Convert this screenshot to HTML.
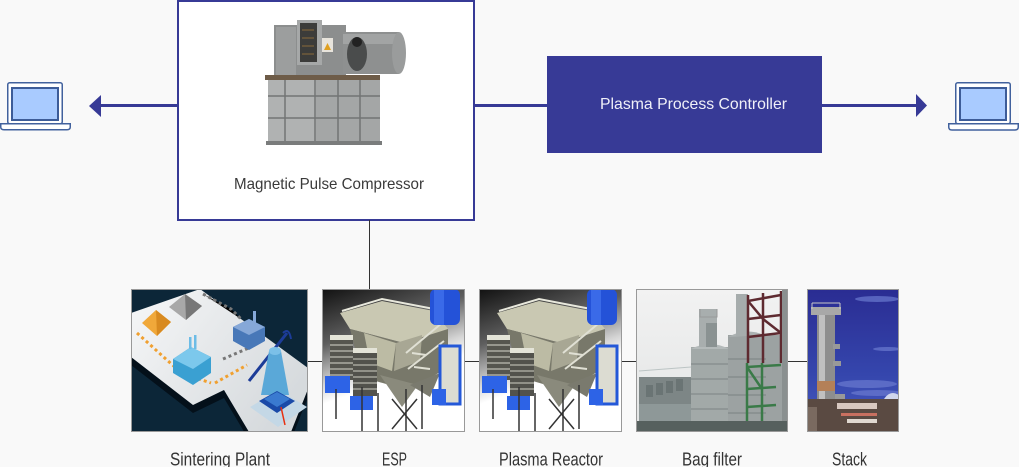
<!DOCTYPE html>
<html><head><meta charset="utf-8"><style>
html,body{margin:0;padding:0;background:#f9f9f9;}
svg{display:block;}
</style></head><body>
<svg width="1019" height="467" viewBox="0 0 1019 467">
<defs>
 <linearGradient id="espbg" x1="0" y1="0" x2="0.35" y2="1">
  <stop offset="0" stop-color="#111"/>
  <stop offset="0.35" stop-color="#5e5e5e"/>
  <stop offset="0.6" stop-color="#d5d5d5"/>
  <stop offset="0.72" stop-color="#fff"/>
  <stop offset="1" stop-color="#fff"/>
 </linearGradient>
 <linearGradient id="plat" x1="0" y1="0" x2="1" y2="0.6">
  <stop offset="0" stop-color="#f6f7f8"/>
  <stop offset="1" stop-color="#d6dadd"/>
 </linearGradient>
 <linearGradient id="sky" x1="0" y1="0" x2="0" y2="1">
  <stop offset="0" stop-color="#2a2c92"/>
  <stop offset="0.6" stop-color="#3546ad"/>
  <stop offset="1" stop-color="#4a5cc0"/>
 </linearGradient>
 <linearGradient id="bfsky" x1="0" y1="0" x2="0" y2="1">
  <stop offset="0" stop-color="#f2f2f2"/>
  <stop offset="1" stop-color="#e2e4e4"/>
 </linearGradient>
 <clipPath id="c143"><rect width="143" height="143"/></clipPath>
 <clipPath id="c177"><rect width="177" height="143"/></clipPath>
 <clipPath id="c152"><rect width="152" height="143"/></clipPath>
 <clipPath id="c92"><rect width="92" height="143"/></clipPath>
 <g id="esp">
  <rect width="143" height="143" fill="url(#espbg)"/>
  <!-- roof -->
  <polygon points="18,24 60,12 112,22 126,40 82,54 28,40" fill="#c9c8b2"/>
  <polyline points="20,22 60,10 112,20" fill="none" stroke="#e8e8dc" stroke-width="2"/>
  <!-- main body -->
  <polygon points="28,40 82,54 126,40 126,78 88,102 40,88" fill="#78786a"/>
  <polygon points="42,44 74,54 70,82 48,74" fill="#bcbba4"/>
  <polygon points="74,54 100,46 98,72 72,82" fill="#a8a794"/>
  <!-- hoppers -->
  <polygon points="58,86 96,96 80,118" fill="#8a8a7c"/>
  <polygon points="88,96 118,84 108,108" fill="#7a7a6e"/>
  <!-- left stacked boxes -->
  <rect x="8" y="49" width="23" height="42" fill="#56564f"/>
  <rect x="8" y="46" width="23" height="5" fill="#e4e4d8"/>
  <g stroke="#d8d8cc" stroke-width="1">
   <line x1="8" y1="56" x2="31" y2="56"/><line x1="8" y1="62" x2="31" y2="62"/><line x1="8" y1="68" x2="31" y2="68"/><line x1="8" y1="74" x2="31" y2="74"/><line x1="8" y1="80" x2="31" y2="80"/><line x1="8" y1="86" x2="31" y2="86"/>
  </g>
  <rect x="31" y="62" width="24" height="45" fill="#52524c"/>
  <rect x="31" y="59" width="24" height="5" fill="#e4e4d8"/>
  <g stroke="#d0d0c4" stroke-width="1">
   <line x1="31" y1="70" x2="55" y2="70"/><line x1="31" y1="76" x2="55" y2="76"/><line x1="31" y1="82" x2="55" y2="82"/><line x1="31" y1="88" x2="55" y2="88"/><line x1="31" y1="94" x2="55" y2="94"/><line x1="31" y1="100" x2="55" y2="100"/>
  </g>
  <!-- stairs -->
  <g stroke="#e0e0d4" stroke-width="2">
   <line x1="84" y1="64" x2="120" y2="34"/><line x1="86" y1="80" x2="122" y2="52"/>
   <line x1="90" y1="64" x2="104" y2="66"/><line x1="92" y1="78" x2="108" y2="80"/>
  </g>
  <!-- blue duct -->
  <rect x="108" y="0" width="30" height="36" rx="6" fill="#2452d8"/>
  <rect x="112" y="0" width="10" height="36" fill="#3a6ae8"/>
  <!-- right column -->
  <rect x="118" y="57" width="20" height="58" fill="#dcdcd2" stroke="#2458d8" stroke-width="3"/>
  <!-- blue boxes -->
  <rect x="3" y="87" width="25" height="17" fill="#2d63e6"/>
  <rect x="28" y="107" width="23" height="14" fill="#2d63e6"/>
  <rect x="110" y="100" width="14" height="16" fill="#2d63e6"/>
  <!-- legs -->
  <g stroke="#333" stroke-width="1.5">
   <line x1="40" y1="98" x2="40" y2="143"/><line x1="56" y1="104" x2="56" y2="143"/>
   <line x1="84" y1="100" x2="84" y2="143"/><line x1="100" y1="96" x2="100" y2="140"/>
   <line x1="14" y1="100" x2="14" y2="130"/><line x1="70" y1="110" x2="95" y2="140"/>
   <line x1="95" y1="110" x2="70" y2="140"/>
  </g>
 </g>
</defs>

<rect width="1019" height="467" fill="#f9f9f9"/>

<!-- connectors top -->
<line x1="100" y1="105.5" x2="178" y2="105.5" stroke="#373a96" stroke-width="3"/>
<polygon points="89,106 101,95 101,117" fill="#373a96"/>
<line x1="474" y1="105.5" x2="548" y2="105.5" stroke="#373a96" stroke-width="3"/>
<line x1="821" y1="105.5" x2="917" y2="105.5" stroke="#373a96" stroke-width="3"/>
<polygon points="916,94 927,105.5 916,117" fill="#373a96"/>

<!-- Magnetic Pulse Compressor box -->
<rect x="178" y="1" width="296" height="219" fill="#fff" stroke="#373a96" stroke-width="2"/>
<!-- machine -->
<g>
 <rect x="274" y="25" width="72" height="52" fill="#8c8e8e"/>
 <rect x="276" y="27" width="20" height="48" fill="#9c9e9e"/>
 <rect x="297" y="20" width="25" height="45" fill="#a6a8a8"/>
 <rect x="300" y="23" width="17" height="39" fill="#3c3c3a"/>
 <g stroke="#8a6a3a" stroke-width="1"><line x1="302" y1="30" x2="314" y2="30"/><line x1="302" y1="38" x2="314" y2="38"/><line x1="302" y1="46" x2="314" y2="46"/><line x1="302" y1="54" x2="314" y2="54"/></g>
 <rect x="322" y="38" width="11" height="14" fill="#e8e4dc"/>
 <polygon points="327.5,43 331,50 324,50" fill="#e0a020"/>
 <rect x="343" y="32" width="56" height="42" fill="#8e9090"/>
 <rect x="343" y="34" width="56" height="10" fill="#a2a4a4"/>
 <ellipse cx="399" cy="53" rx="7" ry="21" fill="#9a9c9c"/>
 <ellipse cx="357" cy="54" rx="10" ry="17" fill="#4a4c4c"/>
 <circle cx="357" cy="42" r="5" fill="#222"/>
 <rect x="265" y="75" width="115" height="5" fill="#6e5c48"/>
 <rect x="268" y="80" width="112" height="62" fill="#a4a6a6"/>
 <rect x="268" y="80" width="48" height="62" fill="#b0b2b2"/>
 <g stroke="#727474" stroke-width="1.5">
  <line x1="268" y1="96" x2="380" y2="96"/><line x1="268" y1="118" x2="380" y2="118"/>
  <line x1="285" y1="80" x2="285" y2="142"/><line x1="315" y1="80" x2="315" y2="142"/>
  <line x1="338" y1="80" x2="338" y2="142"/><line x1="360" y1="80" x2="360" y2="142"/>
 </g>
 <rect x="266" y="141" width="116" height="4" fill="#7a7c7c"/>
</g>
<text x="234" y="189" font-family="Liberation Sans, sans-serif" font-size="16" fill="#3a3a3a" textLength="190" lengthAdjust="spacingAndGlyphs">Magnetic Pulse Compressor</text>

<!-- Plasma Process Controller -->
<rect x="547" y="56" width="275" height="97" fill="#373a96"/>
<text x="600" y="109" font-family="Liberation Sans, sans-serif" font-size="16" fill="#f0f0f8" textLength="187" lengthAdjust="spacingAndGlyphs">Plasma Process Controller</text>

<!-- laptops -->
<g>
 <rect x="7.75" y="82.75" width="54.5" height="41" rx="2" fill="#fff" stroke="#41619d" stroke-width="1.5"/>
 <rect x="12" y="88" width="46" height="32" fill="#a9cbff" stroke="#3d5c98" stroke-width="2"/>
 <path d="M0.75,123.75 H70.25 V127 Q70.25,129.75 67,129.75 H4 Q0.75,129.75 0.75,127 Z" fill="#fff" stroke="#41619d" stroke-width="1.5"/>
</g>
<g>
 <rect x="955.75" y="82.75" width="54.5" height="41" rx="2" fill="#fff" stroke="#41619d" stroke-width="1.5"/>
 <rect x="960" y="88" width="46" height="32" fill="#a9cbff" stroke="#3d5c98" stroke-width="2"/>
 <path d="M948.75,123.75 H1018.25 V127 Q1018.25,130 1015,130 H952 Q948.75,130 948.75,127 Z" fill="#fff" stroke="#41619d" stroke-width="1.5"/>
</g>

<!-- vertical connector -->
<line x1="369.5" y1="220" x2="369.5" y2="290" stroke="#333" stroke-width="1"/>
<!-- bottom connectors -->
<g stroke="#333" stroke-width="1">
 <line x1="308" y1="361.5" x2="322" y2="361.5"/>
 <line x1="465" y1="361.5" x2="479" y2="361.5"/>
 <line x1="622" y1="361.5" x2="636" y2="361.5"/>
 <line x1="788" y1="361.5" x2="807" y2="361.5"/>
</g>

<!-- Sintering Plant -->
<g transform="translate(131,289)">
 <g clip-path="url(#c177)">
  <rect width="177" height="143" fill="#0c2638"/>
  <polygon points="0,32 69,8 177,87 177,108 160,151 118,151 93,109 62,124 0,76" fill="#04101a"/>
  <polygon points="0,24 69,0 177,79 177,100 160,143 118,143 93,101 62,116 0,68" fill="url(#plat)"/>
  <polygon points="119,118 148,101 176,118 147,138" fill="#c4d8e6"/>
  <polygon points="11,34 25,21 40,33 26,47" fill="#f0a83a"/>
  <polygon points="25,21 40,33 26,47" fill="#d88a20"/>
  <polygon points="38,18 54,5 71,17 55,31" fill="#a8a8a8"/>
  <polygon points="54,5 71,17 55,31" fill="#777"/>
  <path d="M6,44 L46,80" stroke="#f0a030" stroke-width="3" stroke-dasharray="3,3"/>
  <path d="M50,84 L80,94 M84,94 L116,76" stroke="#f0a030" stroke-width="3" stroke-dasharray="3,3"/>
  <path d="M72,5 L100,20 L110,30 M92,70 L120,58" stroke="#777" stroke-width="3" stroke-dasharray="3,3"/>
  <polygon points="42,70 60,58 80,68 80,84 62,96 42,84" fill="#3aa0d2"/>
  <polygon points="42,70 60,58 80,68 62,80" fill="#7cc8ec"/>
  <rect x="58" y="48" width="2.5" height="12" fill="#6cbce6"/><rect x="63" y="46" width="2.5" height="14" fill="#6cbce6"/>
  <polygon points="102,38 118,30 134,38 134,52 118,61 102,52" fill="#4878b8"/>
  <polygon points="102,38 118,30 134,38 118,46" fill="#86a8d8"/>
  <rect x="122" y="22" width="3" height="12" fill="#86a8d8"/>
  <line x1="118" y1="92" x2="156" y2="44" stroke="#1c3c98" stroke-width="3"/>
  <path d="M152,44 Q158,38 160,50" stroke="#1c3c98" stroke-width="2" fill="none"/>
  <polygon points="138,62 150,62 158,106 130,106" fill="#5aa8d8"/>
  <ellipse cx="144" cy="62" rx="6" ry="4" fill="#7cc0e8"/>
  <polygon points="128,112 146,102 164,112 146,124" fill="#1a4aa8"/>
  <polygon points="133,110 146,103 159,110 146,118" fill="#3a7ad0"/>
  <line x1="150" y1="118" x2="154" y2="136" stroke="#e83010" stroke-width="1.5"/>
 </g>
 <rect x="0.5" y="0.5" width="176" height="142" fill="none" stroke="#999"/>
</g>

<!-- ESP -->
<g transform="translate(322,289)">
 <g clip-path="url(#c143)"><use href="#esp"/></g>
 <rect x="0.5" y="0.5" width="142" height="142" fill="none" stroke="#999"/>
</g>

<!-- Plasma Reactor -->
<g transform="translate(479,289)">
 <g clip-path="url(#c143)"><use href="#esp"/></g>
 <rect x="0.5" y="0.5" width="142" height="142" fill="none" stroke="#999"/>
</g>

<!-- Bag filter -->
<g transform="translate(636,289)">
 <g clip-path="url(#c152)">
  <rect width="152" height="143" fill="url(#bfsky)"/>
  <!-- left low block -->
  <rect x="3" y="88" width="55" height="55" fill="#7d8686"/>
  <g fill="#6a7474">
   <rect x="10" y="96" width="7" height="12"/><rect x="20" y="94" width="7" height="12"/><rect x="30" y="92" width="7" height="12"/><rect x="40" y="90" width="7" height="12"/>
  </g>
  <rect x="3" y="115" width="52" height="28" fill="#8e9898"/>
  <g stroke="#bcc4c4" stroke-width="1"><line x1="3" y1="82" x2="55" y2="78"/></g>
  <!-- middle silo -->
  <rect x="55" y="58" width="38" height="85" fill="#a2a9a8"/>
  <path d="M55,60 Q74,50 93,60" fill="#b4baba"/>
  <g stroke="#7c8484" stroke-width="1"><line x1="55" y1="75" x2="93" y2="75"/><line x1="55" y1="90" x2="93" y2="90"/><line x1="55" y1="105" x2="93" y2="105"/><line x1="55" y1="120" x2="93" y2="120"/></g>
  <rect x="63" y="20" width="18" height="38" fill="#a8aeae"/>
  <rect x="70" y="34" width="11" height="24" fill="#8a9292"/>
  <g stroke="#999" stroke-width="1" fill="none"><path d="M64,20 V28 H81 V20"/></g>
  <!-- right silo -->
  <rect x="92" y="46" width="56" height="97" fill="#9ca2a2"/>
  <path d="M92,48 Q110,38 128,46" fill="#acb2b2"/>
  <g stroke="#7a8282" stroke-width="1"><line x1="92" y1="70" x2="130" y2="70"/><line x1="92" y1="88" x2="130" y2="88"/><line x1="92" y1="106" x2="130" y2="106"/><line x1="92" y1="124" x2="130" y2="124"/></g>
  <rect x="100" y="5" width="12" height="42" fill="#a6acac"/>
  <!-- red frame -->
  <g stroke="#5e2a30" stroke-width="2.5" fill="none">
   <line x1="112" y1="6" x2="112" y2="74"/><line x1="127" y1="4" x2="127" y2="74"/><line x1="145" y1="2" x2="145" y2="74"/>
   <line x1="112" y1="12" x2="145" y2="6"/><line x1="112" y1="30" x2="145" y2="26"/><line x1="112" y1="48" x2="145" y2="44"/>
   <line x1="112" y1="12" x2="127" y2="30"/><line x1="127" y1="30" x2="145" y2="44"/>
  </g>
  <!-- green frame -->
  <g stroke="#3a7a48" stroke-width="2.5" fill="none">
   <line x1="111" y1="74" x2="111" y2="135"/><line x1="126" y1="74" x2="126" y2="135"/>
   <line x1="111" y1="78" x2="145" y2="76"/><line x1="111" y1="100" x2="140" y2="98"/><line x1="111" y1="118" x2="140" y2="116"/>
   <line x1="111" y1="78" x2="126" y2="100"/>
  </g>
  <rect x="146" y="0" width="6" height="143" fill="#8a9090"/>
  <rect x="0" y="132" width="152" height="11" fill="#56605e"/>
 </g>
 <rect x="0.5" y="0.5" width="151" height="142" fill="none" stroke="#999"/>
</g>

<!-- Stack -->
<g transform="translate(807,289)">
 <g clip-path="url(#c92)">
  <rect width="92" height="143" fill="url(#sky)"/>
  <g fill="#6a7ad0" opacity="0.7">
   <ellipse cx="70" cy="10" rx="22" ry="3"/><ellipse cx="80" cy="60" rx="14" ry="2"/><ellipse cx="60" cy="95" rx="30" ry="4"/><ellipse cx="70" cy="104" rx="26" ry="3"/>
  </g>
  <ellipse cx="86" cy="122" rx="12" ry="18" fill="#d0d6ec"/>
  <!-- column -->
  <rect x="10" y="26" width="18" height="117" fill="#8e8e8e"/>
  <rect x="12" y="26" width="6" height="117" fill="#c0c0c0"/>
  <rect x="10" y="92" width="18" height="10" fill="#b48058"/>
  <rect x="4" y="18" width="30" height="8" fill="#a8a8a8"/>
  <g stroke="#c8c8c8" stroke-width="1"><line x1="5" y1="14" x2="5" y2="20"/><line x1="33" y1="14" x2="33" y2="20"/><line x1="5" y1="14" x2="33" y2="14"/></g>
  <rect x="26" y="55" width="7" height="5" fill="#999"/>
  <rect x="26" y="72" width="8" height="5" fill="#999"/>
  <rect x="28" y="105" width="10" height="5" fill="#999"/>
  <!-- bottom structures -->
  <rect x="0" y="110" width="92" height="33" fill="#5a4a42"/>
  <rect x="30" y="114" width="40" height="6" fill="#d8c8c0"/>
  <rect x="34" y="124" width="36" height="3" fill="#c87060"/>
  <rect x="40" y="130" width="30" height="4" fill="#e0d8d0"/>
  <rect x="0" y="118" width="10" height="25" fill="#7a6a60"/>
 </g>
 <rect x="0.5" y="0.5" width="91" height="142" fill="none" stroke="#999"/>
</g>

<!-- labels -->
<g font-family="Liberation Sans, sans-serif" font-size="18" fill="#333">
 <text x="170" y="465.5" textLength="100" lengthAdjust="spacingAndGlyphs">Sintering Plant</text>
 <text x="382" y="465.5" textLength="25" lengthAdjust="spacingAndGlyphs">ESP</text>
 <text x="499" y="465.5" textLength="104" lengthAdjust="spacingAndGlyphs">Plasma Reactor</text>
 <text x="682" y="465.5" textLength="60" lengthAdjust="spacingAndGlyphs">Bag filter</text>
 <text x="832" y="465.5" textLength="35" lengthAdjust="spacingAndGlyphs">Stack</text>
</g>
</svg>
</body></html>
